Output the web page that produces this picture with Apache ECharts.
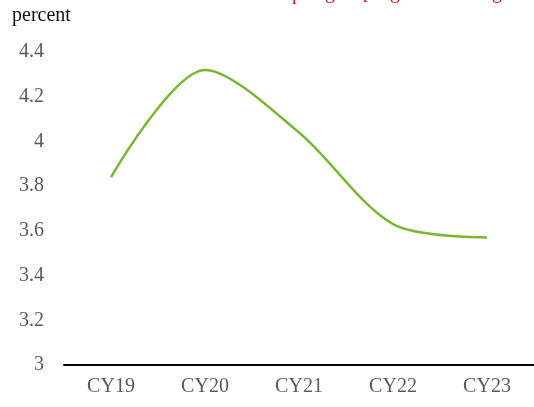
<!DOCTYPE html>
<html>
<head>
<meta charset="utf-8">
<script src="https://cdn.jsdelivr.net/npm/echarts@6/dist/echarts.min.js"></script>
<style>
  html, body { margin: 0; padding: 0; background: #fff; }
  #chart { width: 534px; height: 407px; }
</style>
</head>
<body>
<div id="chart"></div>
<script>
const years = ["CY19", "CY20", "CY21", "CY22", "CY23"];
const rate = [3.84, 4.32, 4.04, 3.63, 3.57];
const yTicks = [3, 3.2, 3.4, 3.6, 3.8, 4, 4.2, 4.4];

const font = "'Liberation Serif', serif";
const chart = echarts.init(document.getElementById("chart"));

chart.setOption({
  animation: false,
  backgroundColor: "#fff",
  grid: { left: 64, right: 0, top: 52, bottom: 42 },
  graphic: [
    { type: "text", left: 12, top: 6, style: { text: "percent", font: "20px " + font, fill: "#111" } },
    // red title text cut off at the top edge
    { type: "text", x: 292, y: -16, style: { text: "p", font: "20px " + font, fill: "#b8231a" } },
    { type: "text", x: 325, y: -17, style: { text: "g", font: "20px " + font, fill: "#b8231a" } },
    { type: "text", x: 363, y: -18, style: { text: "p", font: "20px " + font, fill: "#b8231a" } },
    { type: "text", x: 390, y: -17, style: { text: "g", font: "20px " + font, fill: "#b8231a" } },
    { type: "text", x: 492, y: -17, style: { text: "g", font: "20px " + font, fill: "#b8231a" } }
  ],
  xAxis: {
    type: "category",
    data: years,
    boundaryGap: true,
    axisLine: { lineStyle: { color: "#000", width: 2 } },
    axisTick: { show: false },
    axisLabel: { color: "#595959", fontFamily: font, fontSize: 20, margin: 12 }
  },
  yAxis: {
    type: "value",
    min: yTicks[0],
    max: yTicks[yTicks.length - 1],
    interval: 0.2,
    axisLine: { show: false },
    axisTick: { show: false },
    splitLine: { show: false },
    axisLabel: {
      color: "#595959", fontFamily: font, fontSize: 20, margin: 20,
      formatter: (v) => String(Math.round(v * 10) / 10)
    }
  },
  series: [{
    type: "line",
    data: rate,
    smooth: 0.3,
    symbol: "none",
    lineStyle: { color: "#7ab833", width: 2.5 }
  }]
});
</script>
</body>
</html>
